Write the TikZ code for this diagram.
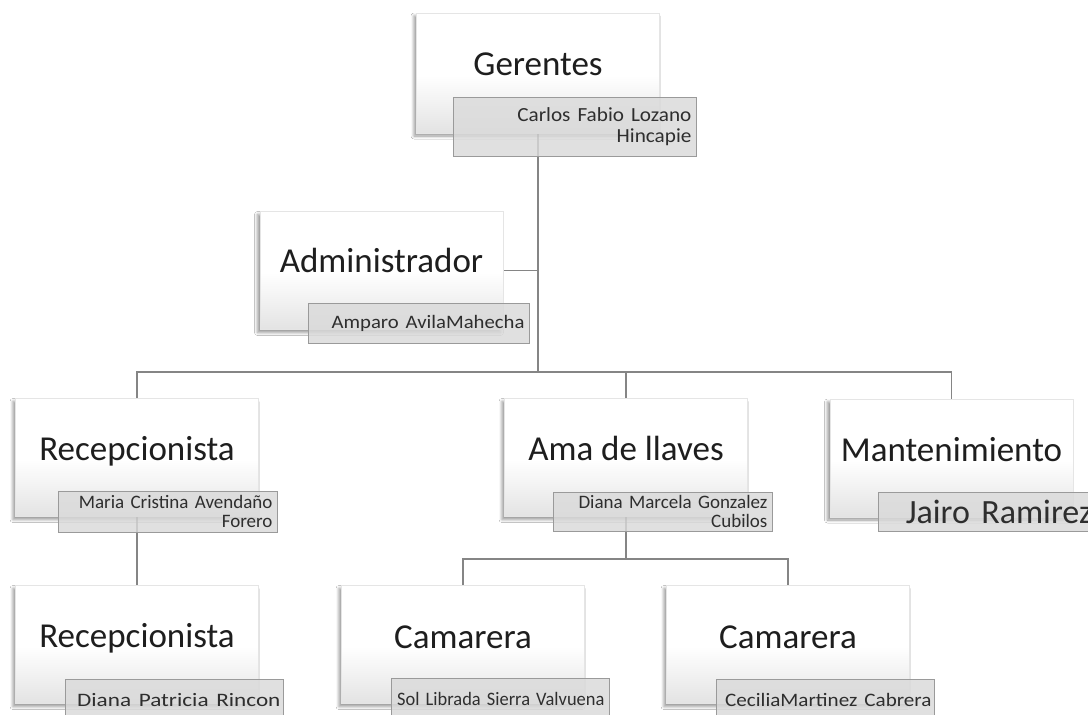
\documentclass[tikz,border=0pt]{standalone}
\usepackage{fontspec}
\usepackage{graphicx}
\setmainfont{Carlito}
\newfontfamily\subf{Carlito}
\setlength{\parindent}{0pt}
\newcommand\hs[2]{\scalebox{#1}[1]{#2}}
\protected\def\subsmall{\subf\fontsize{19}{19}\selectfont\spaceskip=0.55\fontdimen2\font\relax}
\protected\def\subgr{\subf\fontsize{20}{21}\selectfont\spaceskip=0.55\fontdimen2\font\relax}
\protected\def\subbig{\subf\fontsize{34}{34}\selectfont\spaceskip=0.6\fontdimen2\font\relax}
\usetikzlibrary{shadows.blur}
\pgfdeclareverticalshading{boxshade}{100bp}{color(0bp)=(black!11); color(25bp)=(black!11); color(49bp)=(white); color(100bp)=(white)}
\definecolor{linegray}{HTML}{858585}
\definecolor{subfill}{HTML}{DADADA}
\definecolor{subborder}{HTML}{9A9A9A}
\definecolor{txt}{HTML}{1E1E1E}
\definecolor{subtxt}{HTML}{2E2E2E}
\pgfdeclarelayer{bg}
\pgfsetlayers{bg,main}
\tikzset{
  mainbox/.style={draw=black!10, line width=0.6pt, shading=boxshade, minimum width=243pt, minimum height=118pt, inner sep=0pt,
    blur shadow={shadow xshift=-2.5pt, shadow yshift=-3pt, shadow blur radius=3pt, shadow blur steps=6, shadow opacity=42}},
  titletext/.style={text=txt, font=\fontsize{35}{40}\selectfont, inner sep=0pt, anchor=base, yshift=-3pt},
  subbox/.style={draw=subborder, line width=0.9pt, fill=subfill, fill opacity=0.82, draw opacity=1, text opacity=1, text=subtxt,
    anchor=north west, align=right, inner xsep=6pt, inner ysep=0pt, font=\subsmall},
  conn/.style={draw=linegray, line width=1.4pt}
}
\begin{document}
\begin{tikzpicture}[x=1pt,y=-1pt]
\useasboundingbox (0,0) rectangle (1088,715);
\clip (0,0) rectangle (1088,715);
% main boxes
\node[mainbox, minimum height=120pt] (ger) at (538,73) {};
\node[mainbox] (adm) at (381.5,270.5) {};
\node[mainbox] (rec1) at (137,457.5) {};
\node[mainbox] (ama) at (626,457.5) {};
\node[mainbox] (man) at (951.5,458) {};
\node[mainbox] (rec2) at (137,644.5) {};
\node[mainbox] (cam1) at (463,644.5) {};
\node[mainbox] (cam2) at (788,644.5) {};
% titles
\node[titletext, yshift=1pt] (gerT) at (ger.center) {Gerentes};
\node[titletext, yshift=1pt] (admT) at (adm.center) {Administrador};
\node[titletext] (rec1T) at (rec1.center) {Recepcionista};
\node[titletext] (amaT) at (ama.center) {Ama de llaves};
\node[titletext] (manT) at (man.center) {Mantenimiento};
\node[titletext] (rec2T) at (rec2.center) {Recepcionista};
\node[titletext, yshift=-1pt] (cam1T) at (cam1.center) {Camarera};
\node[titletext, yshift=-1pt] (cam2T) at (cam2.center) {Camarera};
% sub boxes
\node[subbox, minimum width=243pt, text width=233pt, inner xsep=5pt, minimum height=59pt, font=\subgr] (gerS) at (453,97) {\hs{1.06}{Carlos Fabio Lozano}\\\hs{1.06}{Hincapie}};
\node[subbox, minimum width=221pt, text width=211pt, inner xsep=5pt, minimum height=40pt] (admS) at (308,303) {\hs{1.09}{Amparo AvilaMahecha}};
\node[subbox, minimum width=219pt, text width=209pt, inner xsep=5pt, minimum height=41pt] (rec1S) at (58,491) {Maria Cristina Avendaño\\Forero};
\node[subbox, minimum width=219pt, text width=209pt, inner xsep=5pt, minimum height=39pt] (amaS) at (553,492) {Diana Marcela Gonzalez\\Cubilos};
\node[subbox, minimum width=220pt, text width=208pt, minimum height=39pt, font=\subbig] (manS) at (878,492) {Jairo Ramirez};
\node[subbox, minimum width=218pt, text width=212pt, inner xsep=3pt, minimum height=42pt] (rec2S) at (65,679) {\hs{1.22}{Diana Patricia Rincon}};
\node[subbox, minimum width=218pt, text width=208pt, inner xsep=5pt, minimum height=42pt] (cam1S) at (391,678) {\hs{0.97}{Sol Librada Sierra Valvuena}};
\node[subbox, minimum width=218pt, text width=212pt, inner xsep=3pt, minimum height=42pt] (cam2S) at (716,679) {\hs{1.11}{CeciliaMartinez Cabrera}};
% connectors
\coordinate (busJ) at (538,372);
\coordinate (amaJ) at (626,559);
\begin{pgfonlayer}{bg}
\fill[white] (0,0) rectangle (1088,715);
\draw[conn] (ger.south) -- (busJ);
\draw[conn] (adm.east) -- (adm.east -| busJ);
\draw[conn] (rec1.north) -- (rec1.north |- busJ) -- (man.north |- busJ) -- (man.north);
\draw[conn] (ama.north) -- (ama.north |- busJ);
\draw[conn] (rec1.south) -- (rec2.north);
\draw[conn] (ama.south) -- (amaJ);
\draw[conn] (cam1.north) -- (cam1.north |- amaJ) -- (cam2.north |- amaJ) -- (cam2.north);
\end{pgfonlayer}
\end{tikzpicture}
\end{document}
